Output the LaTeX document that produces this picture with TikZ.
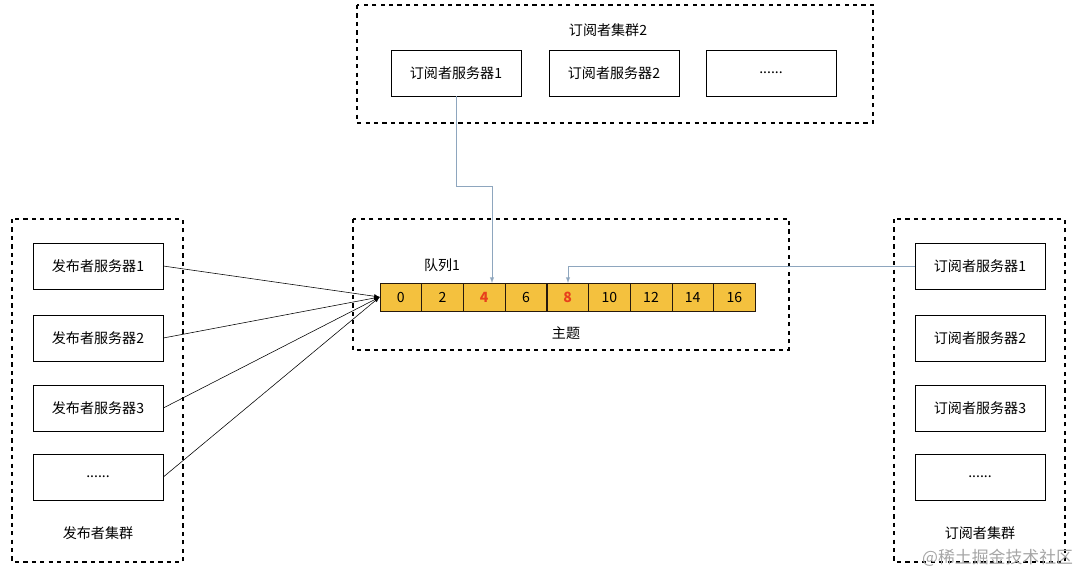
\documentclass[tikz,border=0pt]{standalone}
\usepackage{fontspec}
\setmainfont{Noto Sans CJK SC}
\definecolor{cellColor}{HTML}{F4C13E}
\definecolor{linkColor}{HTML}{8EA6BE}
\definecolor{hotColor}{HTML}{E8401C}
\tikzset{
  cluster/.style={draw=black,dashed,thick},
  server/.style={shape=rectangle,draw=black,minimum width=3.25cm,minimum height=1.15cm,font=\normalsize},
  cell/.style={shape=rectangle,draw=black!80!brown,fill=cellColor,minimum width=1.04cm,minimum height=0.7cm,inner sep=0pt,font=\normalsize},
  feed/.style={->,>=latex,black},
  pull/.style={->,>=latex,linkColor}
}
\begin{document}
\begin{tikzpicture}[x=0.025cm,y=-0.025cm]
      \useasboundingbox (0,0) rectangle (1080,574);

      \draw[cluster] (357,5) rectangle (873,123);
      \draw[cluster] (353,219) rectangle (789,350);
      \draw[cluster] (12,219) rectangle (183,562);
      \draw[cluster] (894,219) rectangle (1065,562);

      \node (G2) at (608,30) {订阅者集群2};
      \node[server] (T1) at (456,73) {订阅者服务器1};
      \node[server] (T2) at (614,73) {订阅者服务器2};
      \node[server] (T3) at (771,73) {......};

      \node[server] (P1) at (98,266) {发布者服务器1};
      \node[server] (P2) at (98,338) {发布者服务器2};
      \node[server] (P3) at (98,408) {发布者服务器3};
      \node[server] (P4) at (98,477) {......};
      \node (PG) at (98,533) {发布者集群};

      \node[server] (R1) at (980,266) {订阅者服务器1};
      \node[server] (R2) at (980,338) {订阅者服务器2};
      \node[server] (R3) at (980,408) {订阅者服务器3};
      \node[server] (R4) at (980,477) {......};
      \node (RG) at (980,533) {订阅者集群};

      \node (Q) at (442,265) {队列1};
      \node (TP) at (566,333) {主题};

      \foreach \v [count=\i from 0] in {0,2,4,6,8,10,12,14,16}
        \node[cell] (C\i) at (400.8+41.7*\i,297) {\v};
      \node[cell,text=hotColor,font=\normalsize\bfseries] at (C2) {4};
      \node[cell,text=hotColor,font=\normalsize\bfseries] at (C4) {8};

      \foreach \p in {P1,P2,P3,P4}
        \draw[feed] (\p.east) -- (C0.west);

      \draw[pull] (T1.south) |- (492,186) -- (492,283);
      \draw[pull] (R1.west) -- (568,266) -- (568,283);

      \node[text=black!35,font=\large,anchor=east] (WM) at (1078,558) {@稀土掘金技术社区};
\end{tikzpicture}
\end{document}
